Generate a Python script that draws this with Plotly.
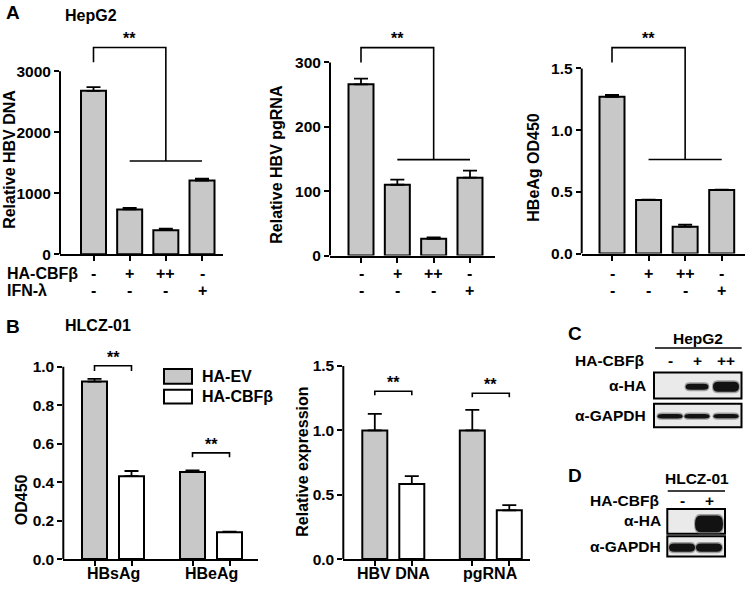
import plotly.graph_objects as go

# ---------------- data ----------------
a_cbf = ["-", "+", "++", "-"]
a_ifn = ["-", "-", "-", "+"]
a_rows = ["HA-CBFβ", "IFN-λ"]

a1_title = "Relative HBV DNA"
a1_vals = [2680, 735, 395, 1210]
a1_err = [60, 25, 25, 30]
a1_ticks = [0, 1000, 2000, 3000]
a1_ticktext = ["0", "1000", "2000", "3000"]
a1_sig = [3150, 3390, 1530]          # left foot, top, right foot

a2_title = "Relative HBV pgRNA"
a2_vals = [266, 110, 26, 121]
a2_err = [9, 8, 2, 11]
a2_ticks = [0, 100, 200, 300]
a2_ticktext = ["0", "100", "200", "300"]
a2_sig = [300, 323, 149]

a3_title = "HBeAg OD450"
a3_vals = [1.27, 0.434, 0.218, 0.514]
a3_err = [0.016, 0.003, 0.016, 0.004]
a3_ticks = [0, 0.5, 1.0, 1.5]
a3_ticktext = ["0.0", "0.5", "1.0", "1.5"]
a3_sig = [1.548, 1.668, 0.762]

b_series = ["HA-EV", "HA-CBFβ"]

b1_title = "OD450"
b1_cats = ["HBsAg", "HBeAg"]
b1_ev = [0.923, 0.453]
b1_ev_err = [0.014, 0.008]
b1_cbf = [0.431, 0.140]
b1_cbf_err = [0.027, 0.003]
b1_ticks = [0, 0.2, 0.4, 0.6, 0.8, 1.0]
b1_ticktext = ["0.0", "0.2", "0.4", "0.6", "0.8", "1.0"]
b1_sig = [[0.978, 1.005], [0.530, 0.552]]   # per group: foot, top

b2_title = "Relative expression"
b2_cats = ["HBV DNA", "pgRNA"]
b2_ev = [1.0, 1.0]
b2_ev_err = [0.128, 0.16]
b2_cbf = [0.583, 0.379]
b2_cbf_err = [0.061, 0.04]
b2_ticks = [0, 0.5, 1.0, 1.5]
b2_ticktext = ["0.0", "0.5", "1.0", "1.5"]
b2_sig = [[1.273, 1.304], [1.258, 1.288]]

sig_text = "**"

# western blots (relative band intensity per lane)
c_cell = "HepG2"
c_lanes = ["-", "+", "++"]
c_ha = [0.0, 0.6, 1.0]
c_gapdh = [1.0, 1.0, 0.95]
d_cell = "HLCZ-01"
d_lanes = ["-", "+"]
d_ha = [0.0, 1.0]
d_gapdh = [1.0, 1.0]
blot_rows = ["α-HA", "α-GAPDH"]

# ---------------- styling helpers ----------------
W, H = 750, 598
def X(px): return px / W
def Y(py): return 1 - py / H

FONT = "Liberation Sans, Arial, Helvetica, sans-serif"
TXT = 16
def fnt(size=TXT):
    return dict(family=FONT, size=size, color="black", weight="bold")

GRAY = "#c8c8c8"
BAR_PX = 25
fig = go.Figure()
shapes, annotations = [], []

def setup_axes(n, g, ticks, ticktext, tickpos):
    ymax = ticks[-1] * (g["y0"] - g["top"]) / (g["y0"] - g["ytp"])
    xs = "" if n == 1 else str(n)
    fig.layout["xaxis" + xs] = dict(
        domain=[X(g["xl"]), X(g["xr"])],
        range=[(g["xl"] - g["c0"]) / g["step"], (g["xr"] - g["c0"]) / g["step"]],
        anchor="y" + xs, showline=True, linewidth=2, linecolor="black",
        ticks="outside", ticklen=5, tickwidth=2, tickcolor="black",
        tickvals=tickpos, showticklabels=False, showgrid=False, zeroline=False,
        fixedrange=True)
    fig.layout["yaxis" + xs] = dict(
        domain=[Y(g["y0"]), Y(g["top"])], range=[0, ymax],
        anchor="x" + xs, showline=False, ticks="outside", ticklen=5,
        tickwidth=2, tickcolor="black", tickvals=ticks, ticktext=ticktext,
        tickfont=fnt(15.5), showgrid=False, zeroline=False, fixedrange=True)
    shapes.append(dict(type="line", xref="x" + xs + " domain", x0=0, x1=0,
                       yref="y" + xs, y0=0, y1=ticks[-1],
                       line=dict(color="black", width=2)))
    return "x" + xs, "y" + xs

def err(arr):
    return dict(type="data", array=arr, arrayminus=[0] * len(arr), symmetric=False,
                color="black", thickness=1.8, width=7)

def ytitle(text, xpx, ypx):
    annotations.append(dict(text=text, x=X(xpx), y=Y(ypx), xref="paper", yref="paper",
                            textangle=-90, showarrow=False, font=fnt(TXT),
                            xanchor="center", yanchor="middle"))

def text(t, xpx, ypx, size=TXT, anchor="center", xref="paper", xval=None):
    annotations.append(dict(text=t, x=X(xpx) if xval is None else xval, y=Y(ypx),
                            xref=xref, yref="paper", showarrow=False, font=fnt(size),
                            xanchor=anchor, yanchor="middle"))

# ---------------- panel A ----------------
geomA = [
    dict(xl=60, xr=223, c0=93.5, step=36.17, y0=257.7, ytp=72.3, top=22),
    dict(xl=330, xr=495, c0=361, step=36.33, y0=259, ytp=63.3, top=22),
    dict(xl=581.7, xr=745, c0=612, step=36.57, y0=257, ytp=69.3, top=22),
]
A = [(a1_vals, a1_err, a1_ticks, a1_ticktext, a1_sig, a1_title, (10, 162)),
     (a2_vals, a2_err, a2_ticks, a2_ticktext, a2_sig, a2_title, (277, 167)),
     (a3_vals, a3_err, a3_ticks, a3_ticktext, a3_sig, a3_title, (534, 170))]
for i, (vals, er, ticks, tt, sig, title, tpos) in enumerate(A):
    g = geomA[i]
    pos = list(range(len(vals)))
    xa, ya = setup_axes(i + 1, g, ticks, tt, pos)
    fig.add_trace(go.Bar(x=pos, y=vals, width=BAR_PX / g["step"], xaxis=xa, yaxis=ya,
                         marker=dict(color=GRAY, line=dict(color="black", width=2)),
                         error_y=err(er), showlegend=False, hoverinfo="skip"))
    fl, top, fr = sig
    fig.add_trace(go.Scatter(x=[0, 0, 2, 2, None, 1, 3], y=[fl, top, top, fr, None, fr, fr],
                             mode="lines", line=dict(color="black", width=1.6),
                             xaxis=xa, yaxis=ya, showlegend=False, hoverinfo="skip"))
    annotations.append(dict(text=sig_text, x=1, y=top, xref=xa, yref=ya, showarrow=False,
                            font=fnt(16), xanchor="center", yanchor="bottom", yshift=-1))
    for k in pos:
        text(a_cbf[k], 0, 277, xref=xa, xval=k)
        text(a_ifn[k], 0, 294, xref=xa, xval=k)
    ytitle(title, *tpos)

text(a_rows[0], 5, 277, anchor="left")
text(a_rows[1], 5, 294, anchor="left")
text("A", 4, 13, size=19, anchor="left")
text("HepG2", 63, 16, anchor="left")

# ---------------- panel B ----------------
geomB = [
    dict(xl=63.3, xr=258, c0=113, step=98, y0=566.7, ytp=371.7, top=340),
    dict(xl=343.3, xr=530, c0=393.3, step=97.5, y0=566.7, ytp=371, top=340),
]
B = [(b1_cats, b1_ev, b1_ev_err, b1_cbf, b1_cbf_err, b1_ticks, b1_ticktext, b1_sig, b1_title, (21, 507)),
     (b2_cats, b2_ev, b2_ev_err, b2_cbf, b2_cbf_err, b2_ticks, b2_ticktext, b2_sig, b2_title, (303, 468))]
for i, (cats, ev, eve, cb, cbe, ticks, tt, sig, title, tpos) in enumerate(B):
    g = geomB[i]
    w = BAR_PX / g["step"]
    d = 18.5 / g["step"]
    pos = list(range(len(cats)))
    tickpos = sorted([p - d for p in pos] + [p + d for p in pos])
    xa, ya = setup_axes(4 + i, g, ticks, tt, tickpos)
    for vals, er, col, off in [(ev, eve, GRAY, -d), (cb, cbe, "white", d)]:
        fig.add_trace(go.Bar(x=pos, y=vals, width=w, offset=off - w / 2, xaxis=xa, yaxis=ya,
                             marker=dict(color=col, line=dict(color="black", width=2)),
                             error_y=err(er), showlegend=False, hoverinfo="skip"))
    for p, (foot, top) in zip(pos, sig):
        fig.add_trace(go.Scatter(x=[p - d, p - d, p + d, p + d], y=[foot, top, top, foot],
                                 mode="lines", line=dict(color="black", width=1.6),
                                 xaxis=xa, yaxis=ya, showlegend=False, hoverinfo="skip"))
        annotations.append(dict(text=sig_text, x=p, y=top, xref=xa, yref=ya, showarrow=False,
                                font=fnt(16), xanchor="center", yanchor="bottom", yshift=-2))
    for p, c in zip(pos, cats):
        text(c, 0, 581, xref=xa, xval=p)
    ytitle(title, *tpos)

text("B", 4, 331, size=19, anchor="left")
text("HLCZ-01", 63, 330, anchor="left")

# legend for panel B
for (name, col, y0, y1, ty) in [(b_series[0], GRAY, 374, 389, 382), (b_series[1], "white", 395, 409, 401.5)]:
    shapes.append(dict(type="rect", xref="paper", yref="paper", x0=X(164), x1=X(192),
                       y0=Y(y1), y1=Y(y0), fillcolor=col, line=dict(color="black", width=2)))
    text(name, 200, ty, anchor="left")

# ---------------- blots C and D ----------------
def band_path(cx, cy, bw, bh):
    x0, x1 = X(cx - bw / 2), X(cx + bw / 2)
    ya, yb = Y(cy - bh / 2), Y(cy + bh / 2)
    ym = Y(cy)
    r = X(bw * 0.2)
    return (f"M{x0 + r},{ya} L{x1 - r},{ya} Q{x1},{ya} {x1},{ym} Q{x1},{yb} {x1 - r},{yb} "
            f"L{x0 + r},{yb} Q{x0},{yb} {x0},{ym} Q{x0},{ya} {x0 + r},{ya} Z")

def band(cx, cy, bw, bh):
    # soft halo + dark core
    shapes.append(dict(type="path", path=band_path(cx, cy, bw + 2, bh + 3), xref="paper",
                       yref="paper", fillcolor="#606060", opacity=0.55, line=dict(width=0)))
    shapes.append(dict(type="path", path=band_path(cx, cy, bw, bh), xref="paper",
                       yref="paper", fillcolor="#121212", line=dict(width=0)))

def box(x0, x1, y0, y1):
    shapes.append(dict(type="rect", xref="paper", yref="paper", x0=X(x0), x1=X(x1),
                       y0=Y(y1), y1=Y(y0), fillcolor="#eaeaea",
                       line=dict(color="black", width=2), layer="below"))

def blot(letter, lpos, cell, cpos, line_x, line_y, lanes, lane_x, sym_y, lab_x,
         boxes, rows_y, ha, gapdh, ha_dims, g_dims):
    text(letter, lpos[0], lpos[1], size=19, anchor="left")
    text(cell, cpos[0], cpos[1], size=15.5)
    shapes.append(dict(type="line", xref="paper", yref="paper", x0=X(line_x[0]), x1=X(line_x[1]),
                       y0=Y(line_y), y1=Y(line_y), line=dict(color="black", width=1.5)))
    text("HA-CBFβ", lab_x - 2, sym_y, size=15.5, anchor="right")
    for s, lx in zip(lanes, lane_x):
        text(s, lx, sym_y, size=15.5)
    for (bx0, bx1, by0, by1), rl, ry in zip(boxes, blot_rows, rows_y):
        box(bx0, bx1, by0, by1)
        text(rl, lab_x, ry, size=15.5, anchor="right")
    (hbw, hbh, hcy) = ha_dims
    for v, lx in zip(ha, lane_x):
        if v > 0:
            band(lx, hcy, hbw * (0.7 + 0.3 * v), hbh * v)
    (gbw, gbh, gcy) = g_dims
    for v, lx in zip(gapdh, lane_x):
        band(lx, gcy, gbw, gbh * v)

blot("C", (566, 338), c_cell, (698, 343), (655, 741.7), 352.7, c_lanes, [670, 697, 726],
     365.7, 648, [(654, 741.5, 377.5, 404), (654, 741.5, 409.3, 433)], [390.5, 421.5],
     c_ha, c_gapdh, (26, 10, 392), (25, 4.5, 421.8))
blot("D", (566, 482), d_cell, (697, 485), (667.7, 725), 497.7, d_lanes, [682, 709],
     507.7, 663, [(667.3, 725, 516, 541), (667.3, 725, 543.5, 564)], [528, 554],
     d_ha, d_gapdh, (28, 17, 531), (26, 8.5, 555))

fig.update_layout(
    width=W, height=H, margin=dict(l=0, r=0, t=0, b=0),
    paper_bgcolor="white", plot_bgcolor="rgba(0,0,0,0)",
    barmode="overlay", showlegend=False,
    shapes=shapes, annotations=annotations,
    font=dict(family=FONT, color="black"),
)
fig.write_html("out.html", config={"displayModeBar": False},
               post_script="document.body.style.margin='0';")
